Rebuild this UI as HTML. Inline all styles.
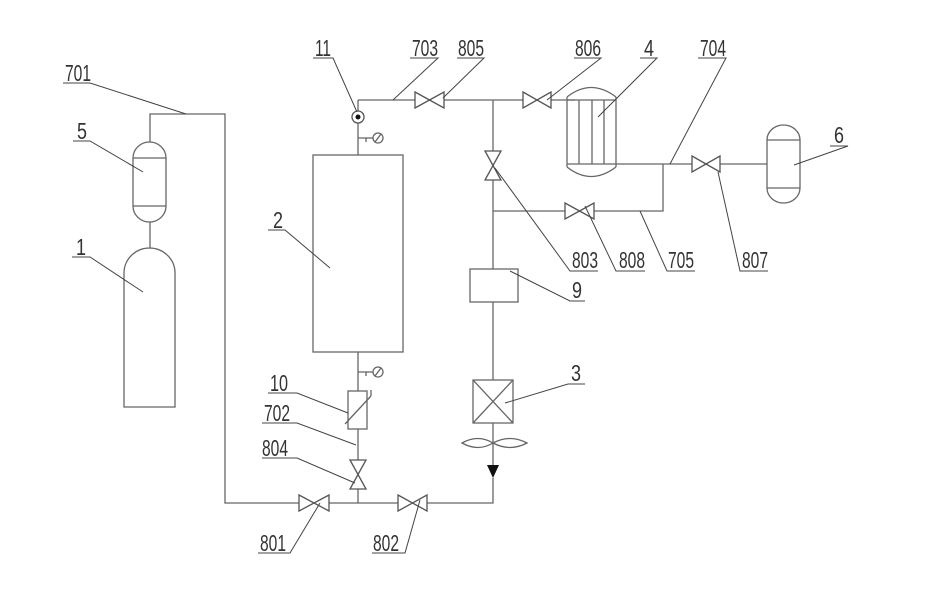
<!DOCTYPE html>
<html><head><meta charset="utf-8"><style>html,body{margin:0;padding:0;background:#fff}svg{display:block}text{font-family:"Liberation Sans",sans-serif;font-size:23px;fill:#333}</style></head>
<body>
<svg width="935" height="599" viewBox="0 0 935 599" xmlns="http://www.w3.org/2000/svg">
<g fill="none" stroke="#666" stroke-width="1.3">
<polyline points="150,142 150,114 225,114 225,503 493,503 493,478"/>
<path d="M133,158 A16.5,16 0 0 1 166,158 L166,206 A16.5,16 0 0 1 133,206 Z"/>
<line x1="133" y1="158" x2="166" y2="158"/><line x1="133" y1="206" x2="166" y2="206"/>
<line x1="150" y1="222" x2="150" y2="248"/>
<path d="M124,407 L124,273 A25.5,25 0 0 1 175,273 L175,407 Z"/>
<rect x="313" y="155" width="90" height="197"/>
<line x1="358" y1="155" x2="358" y2="123"/>
<polyline points="358,100 575,100"/>
<polyline points="358,100 358,111"/>
<polyline points="358,138 366,138 366,142"/><line x1="366" y1="138" x2="373" y2="138"/>
<circle cx="378" cy="138" r="5"/><line x1="375" y1="142" x2="381" y2="134"/>
<line x1="358" y1="352" x2="358" y2="391"/>
<polyline points="358,372 366,372 366,376"/><line x1="366" y1="372" x2="373" y2="372"/>
<circle cx="378" cy="372" r="5"/><line x1="375" y1="376" x2="381" y2="368"/>
<rect x="348" y="391" width="19" height="38"/>
<line x1="345" y1="424" x2="371" y2="396"/><line x1="371" y1="396" x2="371" y2="390"/>
<line x1="358" y1="429" x2="358" y2="503"/>
<line x1="493" y1="100" x2="493" y2="269"/>
<line x1="493" y1="302" x2="493" y2="380"/>
<rect x="470" y="269" width="48" height="33"/>
<rect x="473" y="380" width="40" height="43"/>
<line x1="473" y1="380" x2="513" y2="423"/><line x1="513" y1="380" x2="473" y2="423"/>
<line x1="493" y1="423" x2="493" y2="465"/>
<path d="M462,443 Q478,434 493,443 Q478,452 462,443 Z"/>
<path d="M493,443 Q510,434 527,443 Q510,452 493,443 Z"/>
<path d="M567,97 Q591,78 616,97"/><path d="M567,167 Q591,186 616,167"/>
<line x1="567" y1="97" x2="567" y2="167"/><line x1="616" y1="97" x2="616" y2="167"/>
<line x1="567" y1="100" x2="616" y2="100"/><line x1="567" y1="164" x2="616" y2="164"/>
<line x1="579" y1="100" x2="579" y2="164"/><line x1="592" y1="100" x2="592" y2="164"/><line x1="604" y1="100" x2="604" y2="164"/>
<polyline points="616,164 767,164"/>
<polyline points="663,164 663,211 493,211"/>
<path d="M767,140 A16.5,15 0 0 1 800,140 L800,188 A16.5,15 0 0 1 767,188 Z"/>
<line x1="767" y1="140" x2="800" y2="140"/><line x1="767" y1="188" x2="800" y2="188"/>
</g>
<g fill="#fff" stroke="#555" stroke-width="1.3">
<path d="M415,92 L444,108 L444,92 L415,108 Z"/>
<path d="M523,92 L551,108 L551,92 L523,108 Z"/>
<path d="M565,203 L594,219 L594,203 L565,219 Z"/>
<path d="M692,156 L720,172 L720,156 L692,172 Z"/>
<path d="M299,495 L329,511 L329,495 L299,511 Z"/>
<path d="M398,495 L427,511 L427,495 L398,511 Z"/>
<path d="M485,151 L501,180 L485,180 L501,151 Z"/>
<path d="M350,460 L366,489 L350,489 L366,460 Z"/>
<circle cx="358" cy="117" r="6"/>
</g>
<circle cx="358" cy="117" r="2.5" fill="#111"/>
<path d="M487,465 L499,465 L493,478 Z" fill="#111"/>
<g stroke="#444" stroke-width="1" fill="none">
<polyline points="63,83 90,83 186,114"/>
<polyline points="73,141 90,141 143,172"/>
<polyline points="72,257 90,257 143,292"/>
<polyline points="268,230 285,230 330,268"/>
<polyline points="313,58 333,58 357,112"/>
<polyline points="410,58 438,58 393,100"/>
<polyline points="457,58 484,58 443,98"/>
<polyline points="574,58 601,58 547,100"/>
<polyline points="640,58 657,58 598,117"/>
<polyline points="698,58 726,58 670,164"/>
<polyline points="830,146 848,146 794,165"/>
<polyline points="598,271 570,271 495,168"/>
<polyline points="645,271 616,271 585,206"/>
<polyline points="695,271 667,271 640,211"/>
<polyline points="768,271 740,271 718,172"/>
<polyline points="585,301 570,301 510,271"/>
<polyline points="585,384 568,384 505,403"/>
<polyline points="268,393 297,393 348,413"/>
<polyline points="262,423 297,423 356,445"/>
<polyline points="262,458 297,458 355,483"/>
<polyline points="258,553 290,553 320,503"/>
<polyline points="372,553 405,553 420,500"/>
</g>
<g>
<text x="65" y="81" textLength="26" lengthAdjust="spacingAndGlyphs">701</text>
<text x="77" y="139" textLength="10" lengthAdjust="spacingAndGlyphs">5</text>
<text x="76" y="255" textLength="10" lengthAdjust="spacingAndGlyphs">1</text>
<text x="273" y="228" textLength="10" lengthAdjust="spacingAndGlyphs">2</text>
<text x="315" y="56" textLength="16" lengthAdjust="spacingAndGlyphs">11</text>
<text x="412" y="56" textLength="26" lengthAdjust="spacingAndGlyphs">703</text>
<text x="458" y="56" textLength="26" lengthAdjust="spacingAndGlyphs">805</text>
<text x="575" y="56" textLength="26" lengthAdjust="spacingAndGlyphs">806</text>
<text x="644" y="56" textLength="10" lengthAdjust="spacingAndGlyphs">4</text>
<text x="700" y="56" textLength="26" lengthAdjust="spacingAndGlyphs">704</text>
<text x="834" y="143" textLength="10" lengthAdjust="spacingAndGlyphs">6</text>
<text x="572" y="268" textLength="26" lengthAdjust="spacingAndGlyphs">803</text>
<text x="619" y="268" textLength="26" lengthAdjust="spacingAndGlyphs">808</text>
<text x="668" y="268" textLength="26" lengthAdjust="spacingAndGlyphs">705</text>
<text x="742" y="268" textLength="26" lengthAdjust="spacingAndGlyphs">807</text>
<text x="572" y="298" textLength="10" lengthAdjust="spacingAndGlyphs">9</text>
<text x="571" y="381" textLength="10" lengthAdjust="spacingAndGlyphs">3</text>
<text x="270" y="391" textLength="18" lengthAdjust="spacingAndGlyphs">10</text>
<text x="264" y="421" textLength="26" lengthAdjust="spacingAndGlyphs">702</text>
<text x="262" y="456" textLength="26" lengthAdjust="spacingAndGlyphs">804</text>
<text x="260" y="551" textLength="26" lengthAdjust="spacingAndGlyphs">801</text>
<text x="373" y="551" textLength="26" lengthAdjust="spacingAndGlyphs">802</text>
</g>
</svg>
</body></html>
